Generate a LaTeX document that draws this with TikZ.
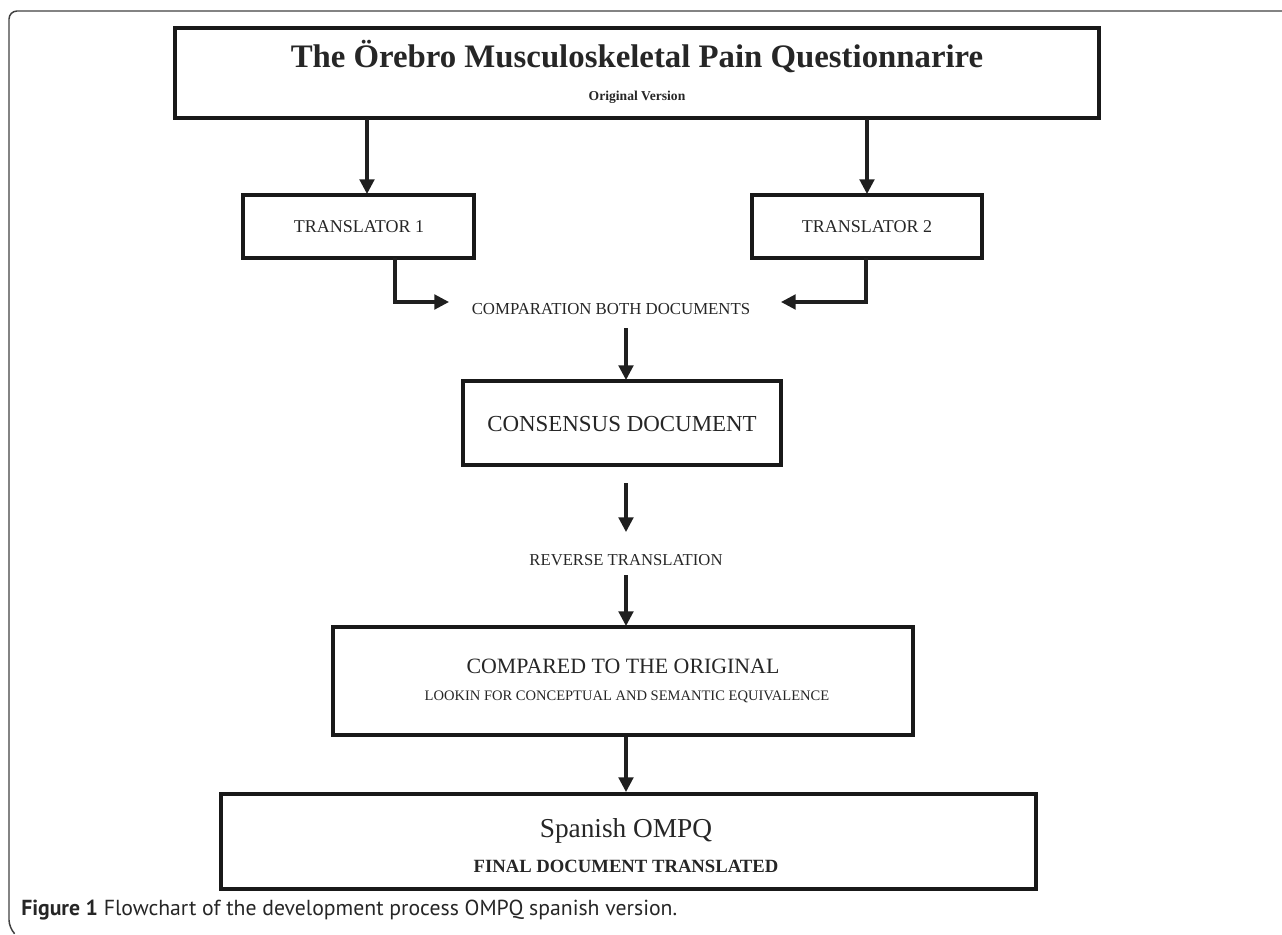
\documentclass[tikz,border=0pt]{standalone}
\usepackage{fontspec}
\setmainfont{Liberation Serif}
\newfontfamily\capfont{PT Sans}
\usetikzlibrary{arrows.meta}
\begin{document}
\begin{tikzpicture}[x=0.75pt,y=-0.75pt,
  box/.style={draw=black!90,line width=2.3pt},
  flow/.style={draw=black!88,line width=2.3pt,-{Triangle[length=11pt,width=11pt]}},
  lbl/.style={inner sep=0pt,anchor=center,text=black!85}]
\useasboundingbox (0,0) rectangle (1282,935);
% outer frame
\draw[black!75,line width=1.1pt,rounded corners=6pt] (1290,11) -- (9,11) -- (9,928) -- (14,933);
% boxes
\draw[box] (175,28) rectangle (1099,118);
\node[lbl,font=\fontsize{24.6}{28}\selectfont\bfseries] (title) at (637,57) {The Örebro Musculoskeletal Pain Questionnarire};
\node[lbl,font=\fontsize{10.2}{12}\selectfont\bfseries] (sub) at (637,97) {Original Version};
\coordinate (tbL) at (367,119);
\coordinate (tbR) at (867,119);

\draw[box] (243,195) rectangle (474,258);
\node[lbl,font=\fontsize{13.5}{16}\selectfont] (t1) at (359,227) {TRANSLATOR 1};
\coordinate (t1top) at (367,194);
\coordinate (t1bot) at (395,258);

\draw[box] (752,195) rectangle (982,258);
\node[lbl,font=\fontsize{13.5}{16}\selectfont] (t2) at (867,227) {TRANSLATOR 2};
\coordinate (t2top) at (867,194);
\coordinate (t2bot) at (866,258);

\node[lbl,font=\fontsize{12.6}{14}\selectfont] (cmp) at (611,309) {COMPARATION BOTH DOCUMENTS};
\coordinate (cmpL) at (449,302);
\coordinate (cmpR) at (781,302);
\coordinate (cmpB) at (626,328);

\draw[box] (463,381) rectangle (781,465);
\node[lbl,font=\fontsize{17.2}{19}\selectfont] (cons) at (622,424) {CONSENSUS DOCUMENT};
\coordinate (consT) at (626,380);
\coordinate (consB) at (626,483);

\node[lbl,font=\fontsize{12.5}{14}\selectfont] (rev) at (626,560) {REVERSE TRANSLATION};
\coordinate (revT) at (626,532);
\coordinate (revB) at (626,575);

\draw[box] (333,627) rectangle (913,735);
\node[lbl,font=\fontsize{16.4}{18}\selectfont] (comp) at (623,666) {COMPARED TO THE ORIGINAL};
\node[lbl,font=\fontsize{10.9}{13}\selectfont] (look) at (627,697) {LOOKIN FOR CONCEPTUAL AND SEMANTIC EQUIVALENCE};
\coordinate (compT) at (626,626);
\coordinate (compB) at (626,737);

\draw[box] (221,794) rectangle (1036,889);
\node[lbl,font=\fontsize{20.5}{24}\selectfont] (span) at (626,831) {Spanish OMPQ};
\node[lbl,font=\fontsize{14}{16}\selectfont\bfseries] (fin) at (626,866) {FINAL DOCUMENT TRANSLATED};
\coordinate (spanT) at (626,792);

% connectors
\draw[flow] (tbL) -- (t1top);
\draw[flow] (tbR) -- (t2top);
\draw[flow] (t1bot) |- (cmpL);
\draw[flow] (t2bot) |- (cmpR);
\draw[flow] (cmpB) -- (consT);
\draw[flow] (consB) -- (revT);
\draw[flow] (revB) -- (compT);
\draw[flow] (compB) -- (spanT);

\node[anchor=west,inner sep=0pt,font=\capfont\fontsize{16.3}{20}\selectfont,text=black!85] (cap) at (21,910) {\textbf{Figure 1} Flowchart of the development process OMPQ spanish version.};
\end{tikzpicture}
\end{document}
